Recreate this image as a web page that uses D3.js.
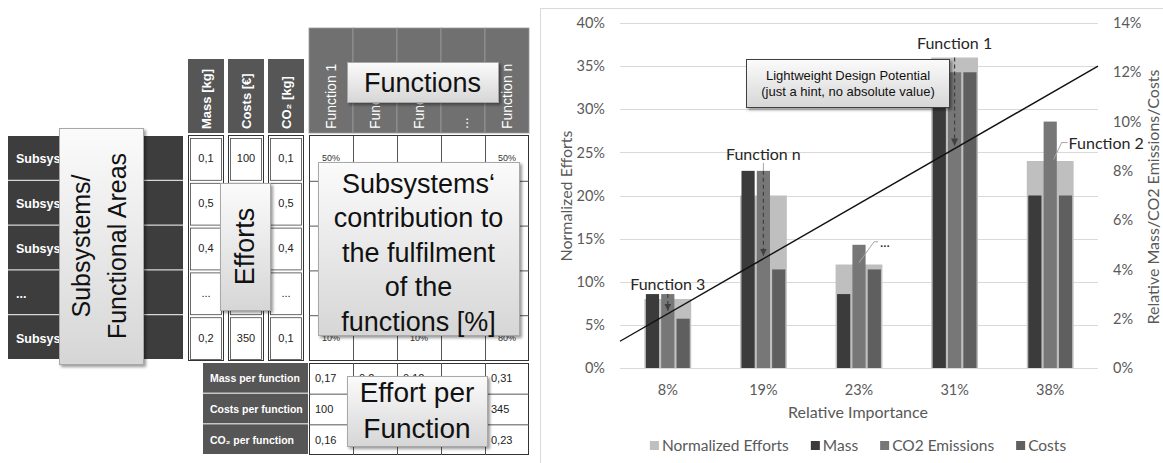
<!DOCTYPE html>
<html>
<head>
<meta charset="utf-8">
<script src="https://cdn.jsdelivr.net/npm/d3@7"></script>
<style>
  body { margin: 0; background: #fff; }
  svg text { font-family: "Liberation Sans", Arial, sans-serif; }
  .chart text { font-family: Lato, "Open Sans", sans-serif; }
</style>
</head>
<body>
<svg id="viz" width="1163" height="463"></svg>
<script>
// left: the matrix
var subsystems = ["Subsystem 1", "Subsystem 2", "Subsystem 3", "...", "Subsystem m"];
var effortHeaders = ["Mass [kg]", "Costs [€]", "CO₂ [kg]"];
var massValues = ["0,1", "0,5", "0,4", "...", "0,2"];
var costValues = ["100", "250", "150", "...", "350"];
var co2Values = ["0,1", "0,5", "0,4", "...", "0,1"];
var functionHeaders = ["Function 1", "Function 2", "Function 3", "...", "Function n"];
var firstRowShares = ["50%", "", "", "", "50%"];
var lastRowShares = ["10%", "", "10%", "", "80%"];
var perFunctionLabels = ["Mass per function", "Costs per function", "CO₂ per function"];
var massPerFunction = ["0,17", "0,2", "0,12", "", "0,31"];
var costsPerFunction = ["100", "", "", "", "345"];
var co2PerFunction = ["0,16", "", "", "", "0,23"];

// right: the chart
var categories = ["8%", "19%", "23%", "31%", "38%"];
var normalizedEfforts = [8, 20, 12, 36, 24];
var mass = [3, 8, 3, 12, 7];
var co2 = [3, 8, 5, 12, 10];
var costs = [2, 4, 4, 12, 7];
var leftTicks = [0, 5, 10, 15, 20, 25, 30, 35, 40];
var rightTicks = [0, 2, 4, 6, 8, 10, 12, 14];
var trendLine = [3.1, 35];   // normalized efforts at left / right end of plot
var arrowCategories = ["8%", "19%", "31%"];
var seriesNames = ["Normalized Efforts", "Mass", "CO2 Emissions", "Costs"];
var seriesColors = ["#bfbfbf", "#3b3b3b", "#777777", "#5f5f5f"];

var svg = d3.select("#viz");
var defs = svg.append("defs");
var grad = defs.append("linearGradient").attr("id", "boxfill").attr("x1", 0).attr("y1", 0).attr("x2", 0).attr("y2", 1);
grad.append("stop").attr("offset", "0%").attr("stop-color", "#fbfbfb");
grad.append("stop").attr("offset", "100%").attr("stop-color", "#d6d6d6");
defs.append("filter").attr("id", "shadow").attr("x", "-10%").attr("y", "-10%").attr("width", "130%").attr("height", "130%")
  .append("feDropShadow").attr("dx", 2).attr("dy", 2).attr("stdDeviation", 1.5).attr("flood-opacity", 0.4);
defs.append("marker").attr("id", "arrow").attr("viewBox", "0 0 8 8").attr("refX", 8).attr("refY", 4)
  .attr("markerWidth", 6).attr("markerHeight", 6).attr("orient", "auto")
  .append("path").attr("d", "M0,0L8,4L0,8z").attr("fill", "#404040");

// ---------- matrix ----------
var left = svg.append("g");
var rowY = d3.scaleBand().domain(d3.range(subsystems.length)).range([136, 360]);
var effX = d3.scaleBand().domain(d3.range(effortHeaders.length)).range([188, 304]).paddingInner(0.1);
var funX = d3.scaleBand().domain(d3.range(functionHeaders.length)).range([309, 529]);
var perY = d3.scaleBand().domain(d3.range(perFunctionLabels.length)).range([363, 455]);

// subsystem rows
left.selectAll(".sub").data(subsystems).join("rect")
  .attr("x", 8).attr("y", function (d, i) { return rowY(i); })
  .attr("width", 175).attr("height", rowY.bandwidth() - 1)
  .attr("fill", "#3d3d3d");
left.selectAll(".subtxt").data(subsystems).join("text")
  .attr("x", 16).attr("y", function (d, i) { return rowY(i) + rowY.bandwidth() / 2 + 5; })
  .attr("fill", "#fff").attr("font-weight", "bold").attr("font-size", 12.5).text(function (d) { return d; });

// effort headers + cells
var effortCols = [massValues, costValues, co2Values];
left.selectAll(".effh").data(effortHeaders).join("rect")
  .attr("x", function (d, i) { return effX(i); }).attr("y", 59)
  .attr("width", effX.bandwidth()).attr("height", 74).attr("fill", "#565656");
left.selectAll(".effht").data(effortHeaders).join("text")
  .attr("transform", function (d, i) { return "translate(" + (effX(i) + effX.bandwidth() / 2 + 5) + ",129) rotate(-90)"; })
  .attr("fill", "#fff").attr("font-weight", "bold").attr("font-size", 13).text(function (d) { return d; });
effortCols.forEach(function (vals, c) {
  var g = left.append("g");
  g.append("rect").attr("x", effX(c) + 0.5).attr("y", 135.5).attr("width", effX.bandwidth() - 1).attr("height", 225)
    .attr("fill", "#fff").attr("stroke", "#333");
  g.selectAll("rect.cell").data(vals).join("rect").attr("class", "cell")
    .attr("x", effX(c) + 2.5).attr("y", function (d, i) { return rowY(i) + 2.5; })
    .attr("width", effX.bandwidth() - 5).attr("height", rowY.bandwidth() - 3)
    .attr("fill", "none").attr("stroke", "#444").attr("stroke-width", 0.8);
  g.selectAll("text").data(vals).join("text")
    .attr("x", effX(c) + effX.bandwidth() / 2).attr("y", function (d, i) { return rowY(i) + rowY.bandwidth() / 2 + 4; })
    .attr("text-anchor", "middle").attr("font-size", 11).attr("fill", "#222").text(function (d) { return d; });
});

// function headers + cells
left.selectAll(".funh").data(functionHeaders).join("rect")
  .attr("x", function (d, i) { return funX(i); }).attr("y", 28)
  .attr("width", funX.bandwidth()).attr("height", 105)
  .attr("fill", "#707070").attr("stroke", "#9a9a9a").attr("stroke-width", 0.8);
left.selectAll(".funht").data(functionHeaders).join("text")
  .attr("transform", function (d, i) { return "translate(" + (funX(i) + funX.bandwidth() / 2 + 5) + ",129) rotate(-90)"; })
  .attr("fill", "#fff").attr("font-size", 14).text(function (d) { return d; });
left.append("rect").attr("x", 309.5).attr("y", 135.5).attr("width", 219).attr("height", 225)
  .attr("fill", "#fff").attr("stroke", "#333");
left.selectAll(".fgv").data(d3.range(1, functionHeaders.length)).join("line")
  .attr("x1", function (d) { return funX(d) + 0.5; }).attr("x2", function (d) { return funX(d) + 0.5; })
  .attr("y1", 136).attr("y2", 360).attr("stroke", "#555");
left.selectAll(".fgh").data(d3.range(1, subsystems.length)).join("line")
  .attr("y1", function (d) { return rowY(d) + 0.5; }).attr("y2", function (d) { return rowY(d) + 0.5; })
  .attr("x1", 309).attr("x2", 529).attr("stroke", "#555");
[[firstRowShares, 0], [lastRowShares, subsystems.length - 1]].forEach(function (p) {
  left.append("g").selectAll("text").data(p[0]).join("text")
    .attr("x", function (d, i) { return funX(i) + funX.bandwidth() / 2; })
    .attr("y", rowY(p[1]) + rowY.bandwidth() / 2 + 3)
    .attr("text-anchor", "middle").attr("font-size", 9).attr("fill", "#333").text(function (d) { return d; });
});

// per-function table
left.selectAll(".perl").data(perFunctionLabels).join("rect")
  .attr("x", 203).attr("y", function (d, i) { return perY(i); })
  .attr("width", 105).attr("height", perY.bandwidth() - 1).attr("fill", "#565656");
left.selectAll(".perlt").data(perFunctionLabels).join("text")
  .attr("x", 210).attr("y", function (d, i) { return perY(i) + perY.bandwidth() / 2 + 4; })
  .attr("fill", "#fff").attr("font-weight", "bold").attr("font-size", 10.5).text(function (d) { return d; });
left.append("rect").attr("x", 309.5).attr("y", 363.5).attr("width", 219).attr("height", 91)
  .attr("fill", "#fff").attr("stroke", "#333");
left.selectAll(".pgv").data(d3.range(1, functionHeaders.length)).join("line")
  .attr("x1", function (d) { return funX(d) + 0.5; }).attr("x2", function (d) { return funX(d) + 0.5; })
  .attr("y1", 363).attr("y2", 455).attr("stroke", "#555");
left.selectAll(".pgh").data(d3.range(1, perFunctionLabels.length)).join("line")
  .attr("y1", function (d) { return perY(d) + 0.5; }).attr("y2", function (d) { return perY(d) + 0.5; })
  .attr("x1", 309).attr("x2", 529).attr("stroke", "#555");
[massPerFunction, costsPerFunction, co2PerFunction].forEach(function (vals, r) {
  left.append("g").selectAll("text").data(vals).join("text")
    .attr("x", function (d, i) { return funX(i) + 6; })
    .attr("y", perY(r) + perY.bandwidth() / 2 + 4)
    .attr("font-size", 11).attr("fill", "#222").text(function (d) { return d; });
});

// overlay boxes
function box(x0, y0, w, h, lines, size, rotate, lead, offset) {
  var g = left.append("g");
  g.append("rect").attr("x", x0 + 0.5).attr("y", y0 + 0.5).attr("width", w).attr("height", h)
    .attr("fill", "url(#boxfill)").attr("stroke", "#a8a8a8").attr("filter", "url(#shadow)");
  var cx = x0 + w / 2, cy = y0 + h / 2;
  var t = g.append("g").attr("transform", "translate(" + cx + "," + cy + ")" + (rotate ? " rotate(-90)" : ""));
  t.selectAll("text").data(lines).join("text")
    .attr("x", 0).attr("y", function (d, i) { return offset + i * lead; })
    .attr("text-anchor", "middle").attr("font-size", size).attr("fill", "#111").text(function (d) { return d; });
}
box(59, 128, 84, 236, ["Subsystems/", "Functional Areas"], 25, true, 36, -11);
box(220, 183, 50, 127, ["Efforts"], 27, true, 0, 9);
box(347, 62, 151, 40, ["Functions"], 27, false, 0, 10);
box(318, 162, 201, 173, ["Subsystems‘", "contribution to", "the fulfilment", "of the", "functions [%]"], 27, false, 34.5, -56);
box(347, 376, 140, 70, ["Effort per", "Function"], 28, false, 36, -9);

// ---------- chart ----------
var chart = svg.append("g").attr("class", "chart");
chart.append("rect").attr("x", 540.5).attr("y", 8.5).attr("width", 700).attr("height", 500)
  .attr("fill", "#fff").attr("stroke", "#d9d9d9");

var x = d3.scaleBand().domain(categories).range([620, 1098]);
var yL = d3.scaleLinear().domain([0, 40]).range([368, 23]);
var yR = d3.scaleLinear().domain([0, 14]).range([368, 23]);
var wide = x.bandwidth() * 0.49;
var inner = d3.scaleBand().domain(seriesNames.slice(1)).range([-wide / 2 + 1.5, wide / 2 - 1.5]).paddingInner(0.14);

chart.selectAll(".grid").data(leftTicks).join("line")
  .attr("x1", 620).attr("x2", 1098)
  .attr("y1", function (d) { return Math.round(yL(d)) + 0.5; }).attr("y2", function (d) { return Math.round(yL(d)) + 0.5; })
  .attr("stroke", "#d9d9d9");

var rows = categories.map(function (c, i) {
  return { cat: c, norm: normalizedEfforts[i], vals: [mass[i], co2[i], costs[i]] };
});
var groups = chart.selectAll(".grp").data(rows).join("g")
  .attr("transform", function (d) { return "translate(" + (x(d.cat) + x.bandwidth() / 2) + ",0)"; });
groups.append("rect")
  .attr("x", -wide / 2).attr("width", wide)
  .attr("y", function (d) { return yL(d.norm); }).attr("height", function (d) { return yL(0) - yL(d.norm); })
  .attr("fill", seriesColors[0]);
groups.selectAll(".b").data(function (d) {
  return d.vals.map(function (v, k) { return { name: seriesNames[k + 1], v: v, color: seriesColors[k + 1] }; });
}).join("rect")
  .attr("x", function (d) { return inner(d.name); }).attr("width", inner.bandwidth())
  .attr("y", function (d) { return yR(d.v); }).attr("height", function (d) { return yR(0) - yR(d.v); })
  .attr("fill", function (d) { return d.color; });

// trend line
var xl = d3.scaleLinear().domain([0, 1]).range(x.range());
var lineY = function (px) { var t = xl.invert(px); return yL(trendLine[0] + (trendLine[1] - trendLine[0]) * t); };
chart.append("path")
  .attr("d", d3.line().x(function (d, i) { return xl(i); }).y(function (d) { return yL(d); })(trendLine))
  .attr("fill", "none").attr("stroke", "#111").attr("stroke-width", 1.4);

// dashed arrows
rows.filter(function (d) { return arrowCategories.indexOf(d.cat) >= 0; }).forEach(function (d) {
  var cx = x(d.cat) + x.bandwidth() / 2;
  var top = Math.min(yL(d.norm), yR(d3.max(d.vals)));
  chart.append("line").attr("x1", cx).attr("x2", cx).attr("y1", top).attr("y2", lineY(cx) - 3)
    .attr("stroke", "#404040").attr("stroke-width", 1.2).attr("stroke-dasharray", "4,3")
    .attr("marker-end", "url(#arrow)");
});

// annotations
function groupTop(cat) {
  var d = rows[categories.indexOf(cat)];
  return Math.min(yL(d.norm), yR(d3.max(d.vals)));
}
function center(cat) { return x(cat) + x.bandwidth() / 2; }
var ann = chart.append("g").attr("font-size", 16).attr("fill", "#262626");
ann.append("text").attr("x", center("8%")).attr("y", groupTop("8%") - 4).attr("text-anchor", "middle").text("Function 3");
ann.append("text").attr("x", center("19%")).attr("y", groupTop("19%") - 11).attr("text-anchor", "middle").text("Function n");
ann.append("line").attr("x1", center("19%")).attr("x2", center("19%")).attr("y1", groupTop("19%") - 8).attr("y2", groupTop("19%"))
  .attr("stroke", "#a6a6a6");
ann.append("text").attr("x", center("31%")).attr("y", groupTop("31%") - 9).attr("text-anchor", "middle").text("Function 1");
var f2 = center("38%") + wide / 2, f2y = groupTop("38%");
ann.append("path").attr("d", "M" + (f2 - 20) + "," + (f2y + 38) + "L" + (f2 - 12) + "," + (f2y + 21) + "L" + (f2 - 6) + "," + (f2y + 21))
  .attr("fill", "none").attr("stroke", "#a6a6a6");
ann.append("text").attr("x", f2 - 5).attr("y", f2y + 27).text("Function 2");
var dots = center("23%"), dy = groupTop("23%");
ann.append("path").attr("d", "M" + dots + "," + (dy + 18) + "L" + (dots + 15) + "," + (dy - 3) + "L" + (dots + 19) + "," + (dy - 3))
  .attr("fill", "none").attr("stroke", "#a6a6a6");
ann.append("text").attr("x", dots + 21).attr("y", dy + 2).attr("font-size", 14).text("...");

// hint box
var hint = chart.append("g");
hint.append("rect").attr("x", 746.5).attr("y", 59.5).attr("width", 203).attr("height", 48)
  .attr("fill", "url(#boxfill)").attr("stroke", "#404040").attr("filter", "url(#shadow)");
hint.selectAll("text").data(["Lightweight Design Potential", "(just a hint, no absolute value)"]).join("text")
  .attr("x", 848).attr("y", function (d, i) { return 80 + i * 16; })
  .attr("text-anchor", "middle").attr("font-size", 13).attr("fill", "#111")
  .style("font-family", "'Liberation Sans', Arial, sans-serif").text(function (d) { return d; });

// axes
function styleAxis(g) {
  g.select(".domain").remove();
  g.selectAll("text").attr("fill", "#595959").style("font-size", "14.5px");
}
chart.append("g").attr("transform", "translate(620,0)")
  .call(d3.axisLeft(yL).tickValues(leftTicks).tickFormat(function (d) { return d + "%"; }).tickSize(0).tickPadding(15))
  .call(styleAxis);
chart.append("g").attr("transform", "translate(1098,0)")
  .call(d3.axisRight(yR).tickValues(rightTicks).tickFormat(function (d) { return d + "%"; }).tickSize(0).tickPadding(15))
  .call(styleAxis);
chart.append("g").attr("transform", "translate(0,368)")
  .call(d3.axisBottom(x).tickSize(0).tickPadding(17))
  .call(styleAxis);

chart.append("text").attr("transform", "translate(572,196) rotate(-90)").attr("text-anchor", "middle")
  .attr("font-size", 16).attr("fill", "#595959").text("Normalized Efforts");
chart.append("text").attr("transform", "translate(1159,197) rotate(-90)").attr("text-anchor", "middle")
  .attr("font-size", 16).attr("fill", "#595959").text("Relative Mass/CO2 Emissions/Costs");
chart.append("text").attr("x", 858).attr("y", 418).attr("text-anchor", "middle")
  .attr("font-size", 16).attr("fill", "#595959").text("Relative Importance");

// legend
var legend = chart.append("g");
var lx = 0;
seriesNames.forEach(function (name, i) {
  var it = legend.append("g").attr("transform", "translate(" + lx + ",0)");
  it.append("rect").attr("x", 0).attr("y", 441).attr("width", 9).attr("height", 9).attr("fill", seriesColors[i]);
  var t = it.append("text").attr("x", 12).attr("y", 451).attr("font-size", 15.5).attr("fill", "#595959").text(name);
  lx += 12 + t.node().getComputedTextLength() + 22;
});
legend.attr("transform", "translate(" + (858 - (lx - 22) / 2) + ",0)");
</script>
</body>
</html>
